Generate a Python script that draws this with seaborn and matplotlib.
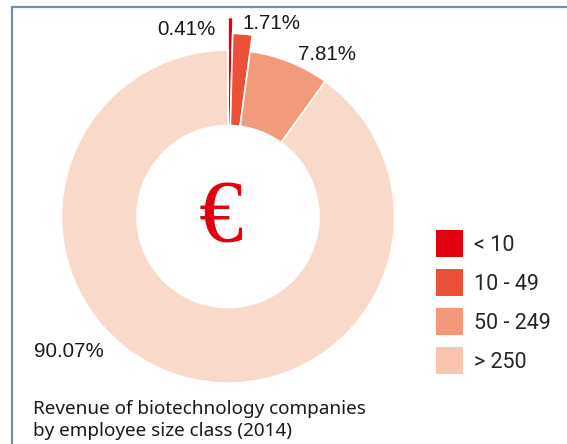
import matplotlib
matplotlib.use("Agg")
import matplotlib.pyplot as plt
from matplotlib.patches import Patch
from matplotlib.lines import Line2D
import seaborn as sns

categories = ["< 10", "10 - 49", "50 - 249", "> 250"]
shares = [0.41, 1.71, 7.81, 90.07]
pct_labels = ["0.41%", "1.71%", "7.81%", "90.07%"]
caption_lines = ["Revenue of biotechnology companies", "by employee size class (2014)"]

donut_colors = ["#E3000F", "#EC5038", "#F29A7C", "#F9D9CA"]
legend_colors = ["#E3000F", "#EC5038", "#F29879", "#F8C6B0"]
outer_radii = [1.195, 1.10, 1.0, 1.0]

sns.set_theme(style="white")
plt.rcParams["font.family"] = ["Liberation Sans", "DejaVu Sans"]

W, H = 567, 444
fig = plt.figure(figsize=(W / 100, H / 100), dpi=100)

def fx(px):
    return px / W

def fy(py):
    return 1 - py / H

cx, cy, R = 228, 216.5, 166.5
half = 1.25 * R
ax = fig.add_axes([fx(cx - half), fy(cy + half), 2 * half / W, 2 * half / H])
ax.set_xlim(-1.25, 1.25)
ax.set_ylim(-1.25, 1.25)
ax.set_aspect("equal")
ax.axis("off")

inner = 91 / R
wedges, _ = ax.pie(shares, colors=donut_colors, startangle=90, counterclock=False,
                   radius=1.0,
                   wedgeprops=dict(width=1 - inner, edgecolor="white", linewidth=1.2))
for w, r in zip(wedges, outer_radii):
    w.set_radius(r)
    w.set_width(r - inner)

# percentage labels
lab_pos = [(157, 35), (243, 29), (298, 60), (34, 357)]
for (x, y), t in zip(lab_pos, pct_labels):
    fig.text(fx(x), fy(y), t, fontsize=14.8, color="#1a1a1a", ha="left", va="baseline")

# euro sign
fig.text(fx(221), fy(219.5), "€", fontsize=64, color="#E3000F", ha="center", va="center",
         family="Liberation Serif")

# caption
for i, line in enumerate(caption_lines):
    fig.text(fx(33), fy(414 + 22 * i), line, fontsize=13.6, family="Noto Sans",
             color="#1a1a1a", ha="left", va="baseline")

# legend
handles = [Patch(facecolor=c, edgecolor="none") for c in legend_colors]
fs = 15.5
fig.legend(handles, categories, loc="upper left", bbox_to_anchor=(fx(436), fy(230)),
           frameon=False, handlelength=1.256, handleheight=1.555,
           handletextpad=0.5, labelspacing=0.56, borderpad=0, borderaxespad=0,
           prop={"family": "Roboto", "size": fs})

# frame lines (top and left)
fig.add_artist(Line2D([fx(12), 1.0], [fy(7.5), fy(7.5)], color="#6F8FAF", lw=1.6))
fig.add_artist(Line2D([fx(12), fx(12)], [fy(7.5), 0.0], color="#6F8FAF", lw=1.6))

fig.savefig("out.png", dpi=100, facecolor="white")
